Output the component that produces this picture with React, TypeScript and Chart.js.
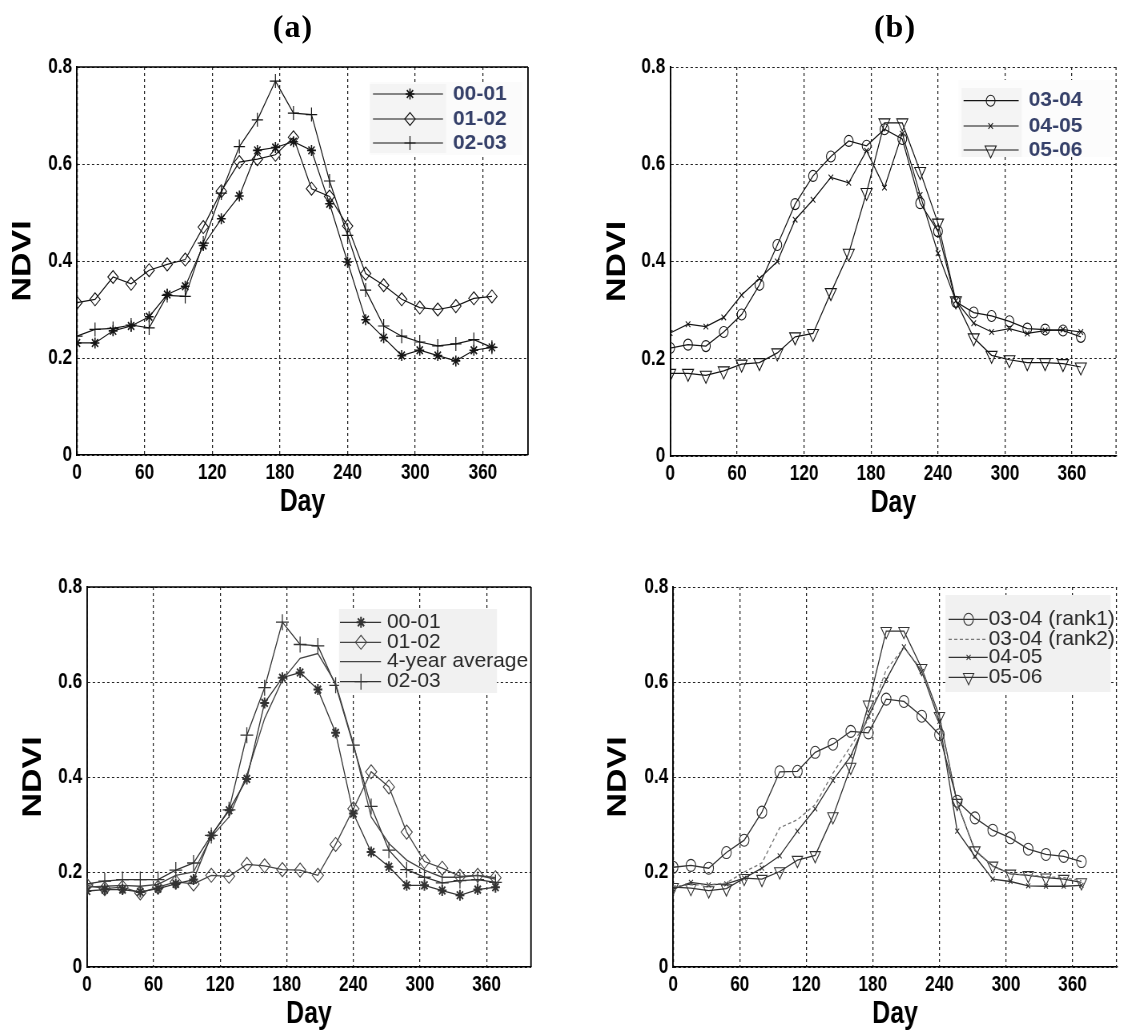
import React, { useEffect, useRef } from 'react';
import { Chart, registerables } from 'chart.js';
import { drawPoint } from 'chart.js/helpers';

Chart.register(...registerables);

// ---------- data ----------
const days = [0, 16, 32, 48, 64, 80, 96, 112, 128, 144, 160, 176, 192, 208, 224, 240, 256, 272, 288, 304, 320, 336, 352, 368];
const xTicks = [0, 60, 120, 180, 240, 300, 360];
const yTicks = [0, 0.2, 0.4, 0.6, 0.8];
const xMax = 400;
const yMax = 0.8;

// panel (a)
const a0001 = [0.231, 0.231, 0.256, 0.266, 0.285, 0.331, 0.348, 0.432, 0.487, 0.534, 0.628, 0.634, 0.646, 0.628, 0.518, 0.398, 0.279, 0.242, 0.205, 0.216, 0.205, 0.194, 0.216, 0.222];
const a0102 = [0.314, 0.321, 0.367, 0.353, 0.381, 0.393, 0.403, 0.470, 0.544, 0.604, 0.610, 0.619, 0.655, 0.549, 0.533, 0.472, 0.374, 0.350, 0.321, 0.304, 0.300, 0.307, 0.323, 0.327];
const a0203 = [0.245, 0.259, 0.261, 0.268, 0.262, 0.329, 0.327, 0.437, 0.540, 0.636, 0.691, 0.771, 0.705, 0.702, 0.565, 0.453, 0.340, 0.266, 0.245, 0.233, 0.225, 0.229, 0.238, 0.222];

// panel (b)
const b0304 = [0.222, 0.229, 0.226, 0.255, 0.291, 0.352, 0.434, 0.518, 0.576, 0.616, 0.648, 0.638, 0.672, 0.652, 0.520, 0.462, 0.317, 0.295, 0.288, 0.277, 0.262, 0.260, 0.258, 0.245];
const b0405 = [0.253, 0.271, 0.266, 0.285, 0.331, 0.365, 0.400, 0.486, 0.527, 0.573, 0.562, 0.628, 0.552, 0.663, 0.537, 0.417, 0.319, 0.273, 0.255, 0.262, 0.252, 0.258, 0.260, 0.255];
const b0506 = [0.170, 0.170, 0.166, 0.175, 0.189, 0.192, 0.212, 0.245, 0.252, 0.336, 0.417, 0.542, 0.685, 0.685, 0.585, 0.479, 0.319, 0.243, 0.207, 0.198, 0.192, 0.192, 0.190, 0.183];

// panel (c)
const c0001 = [0.160, 0.163, 0.163, 0.158, 0.165, 0.175, 0.184, 0.277, 0.330, 0.396, 0.556, 0.609, 0.620, 0.584, 0.493, 0.323, 0.242, 0.211, 0.172, 0.172, 0.161, 0.151, 0.163, 0.168];
const c0102 = [0.172, 0.165, 0.168, 0.156, 0.168, 0.179, 0.175, 0.193, 0.191, 0.216, 0.213, 0.205, 0.204, 0.193, 0.258, 0.333, 0.411, 0.379, 0.284, 0.222, 0.208, 0.191, 0.193, 0.188];
const cAvg = [0.168, 0.170, 0.172, 0.170, 0.174, 0.193, 0.200, 0.274, 0.316, 0.404, 0.523, 0.604, 0.650, 0.660, 0.597, 0.470, 0.316, 0.260, 0.225, 0.204, 0.189, 0.189, 0.193, 0.185];
const c0203 = [0.175, 0.181, 0.184, 0.184, 0.184, 0.204, 0.219, 0.277, 0.331, 0.488, 0.588, 0.726, 0.679, 0.676, 0.593, 0.467, 0.338, 0.246, 0.205, 0.189, 0.177, 0.182, 0.184, 0.178];

// panel (d)
const dRank1 = [0.210, 0.214, 0.208, 0.241, 0.267, 0.326, 0.411, 0.412, 0.452, 0.469, 0.496, 0.493, 0.564, 0.559, 0.528, 0.489, 0.349, 0.314, 0.288, 0.272, 0.248, 0.237, 0.233, 0.222];
const dRank2 = [0.170, 0.173, 0.173, 0.177, 0.200, 0.219, 0.293, 0.310, 0.342, 0.408, 0.465, 0.521, 0.626, 0.672, 0.626, 0.524, 0.345, 0.247, 0.212, 0.196, 0.194, 0.190, 0.188, 0.182];
const d0405 = [0.164, 0.178, 0.173, 0.175, 0.187, 0.208, 0.234, 0.286, 0.333, 0.393, 0.444, 0.528, 0.605, 0.674, 0.622, 0.517, 0.286, 0.233, 0.185, 0.180, 0.171, 0.170, 0.170, 0.172];
const d0506 = [0.168, 0.166, 0.161, 0.165, 0.187, 0.185, 0.201, 0.225, 0.235, 0.317, 0.421, 0.552, 0.707, 0.707, 0.629, 0.528, 0.345, 0.245, 0.213, 0.196, 0.193, 0.188, 0.185, 0.178];

// ---------- styles ----------
// the original figure is horizontally compressed; each chart canvas is drawn
// wider and squeezed back with a CSS transform so the axis text looks narrow.
const S = 0.8;
const SANS = "'Liberation Sans', Arial, sans-serif";

type Series = {
  label: string;
  data: number[];
  marker: any;
  radius: number;
  rotation?: number;
  color: string;
  width: number;
  dash?: number[];
  markerWidth?: number;
  fill?: string;
};

type Box = { x: number; y: number; w: number; h: number; color: string };

type Legend = {
  boxes: Box[];
  rows: number[];
  lineX: [number, number];
  markerX: number;
  textX: number;
  font: string;
  textColor: string;
};

type PanelDef = {
  left: number;
  top: number;
  width: number;
  height: number;
  plot: { l: number; t: number; r: number; b: number };
  ndviX: number;
  dayY: number;
  boxed: boolean;
  series: Series[];
  legend: Legend;
};

const TOP_LINE = '#151515';
const BOT_LINE = '#333333';
const HOLLOW = 'rgba(0,0,0,0)';

const topLegendFont = `bold 21px ${SANS}`;
const botLegendFont = `21px ${SANS}`;

const panels: PanelDef[] = [
  {
    left: 0, top: 0, width: 560, height: 530,
    plot: { l: 77, t: 67, r: 528, b: 455 },
    ndviX: 22.5, dayY: 502, boxed: true,
    series: [
      { label: '00-01', data: a0001, marker: 'star', radius: 5.5, color: TOP_LINE, width: 1.2, markerWidth: 1.6 },
      { label: '01-02', data: a0102, marker: 'rectRot', radius: 6.5, color: TOP_LINE, width: 1.2, markerWidth: 1.1 },
      { label: '02-03', data: a0203, marker: 'cross', radius: 7, color: TOP_LINE, width: 1.2, markerWidth: 1.2 },
    ],
    legend: {
      boxes: [
        { x: 370, y: 82, w: 152, h: 73, color: '#fbfbfb' },
        { x: 370, y: 84, w: 76, h: 69, color: '#f4f4f4' },
      ],
      rows: [94, 119, 143], lineX: [373, 443], markerX: 410, textX: 453,
      font: topLegendFont, textColor: '#36416a',
    },
  },
  {
    left: 560, top: 0, width: 563, height: 530,
    plot: { l: 670, t: 67, r: 1120, b: 456 },
    ndviX: 617, dayY: 503, boxed: false,
    series: [
      { label: '03-04', data: b0304, marker: 'circle', radius: 5.5, color: TOP_LINE, width: 1.2, markerWidth: 1.1 },
      { label: '04-05', data: b0405, marker: 'crossRot', radius: 4, color: TOP_LINE, width: 1.2, markerWidth: 1.1 },
      { label: '05-06', data: b0506, marker: 'triangle', rotation: 180, radius: 8, color: TOP_LINE, width: 1.2, markerWidth: 1.1 },
    ],
    legend: {
      boxes: [
        { x: 958, y: 80, w: 155, h: 77, color: '#fcfcfc' },
        { x: 961, y: 88, w: 60, h: 69, color: '#f4f4f4' },
      ],
      rows: [100.7, 126, 150], lineX: [963, 1018], markerX: 990, textX: 1028,
      font: topLegendFont, textColor: '#36416a',
    },
  },
  {
    left: 0, top: 530, width: 560, height: 503,
    plot: { l: 87, t: 587, r: 531, b: 967 },
    ndviX: 33, dayY: 1014, boxed: true,
    series: [
      { label: '00-01', data: c0001, marker: 'star', radius: 5.5, color: BOT_LINE, width: 1.3, markerWidth: 2 },
      { label: '01-02', data: c0102, marker: 'rectRot', radius: 7, color: '#444444', width: 1.3, markerWidth: 1.1 },
      { label: '4-year average', data: cAvg, marker: false, radius: 0, color: '#444444', width: 1.3 },
      { label: '02-03', data: c0203, marker: 'cross', radius: 8, color: BOT_LINE, width: 1.3, markerWidth: 1.3 },
    ],
    legend: {
      boxes: [{ x: 339, y: 609, w: 158, h: 84, color: '#f1f1f1' }],
      rows: [622.3, 642.3, 661.7, 681.7], lineX: [340, 381], markerX: 361, textX: 387,
      font: botLegendFont, textColor: '#2a2a2a',
    },
  },
  {
    left: 560, top: 530, width: 563, height: 503,
    plot: { l: 673, t: 587, r: 1118, b: 967 },
    ndviX: 618, dayY: 1014, boxed: false,
    series: [
      { label: '03-04 (rank1)', data: dRank1, marker: 'circle', radius: 6, color: BOT_LINE, width: 1.3, markerWidth: 1.1 },
      { label: '03-04 (rank2)', data: dRank2, marker: false, radius: 0, color: '#777777', width: 1.3, dash: [4, 3] },
      { label: '04-05', data: d0405, marker: 'crossRot', radius: 3.5, color: BOT_LINE, width: 1.3, markerWidth: 1.1 },
      { label: '05-06', data: d0506, marker: 'triangle', rotation: 180, radius: 7.5, color: BOT_LINE, width: 1.3, markerWidth: 1.1 },
    ],
    legend: {
      boxes: [{ x: 945, y: 595, w: 165, h: 97, color: '#f1f1f1' }],
      rows: [619.3, 639.3, 657.3, 677.3], lineX: [948, 987], markerX: 968, textX: 988,
      font: botLegendFont, textColor: '#2a2a2a',
    },
  },
];

// ---------- chart building ----------
function makePlugin(p: PanelDef) {
  // page x -> canvas x
  const cx = (x: number) => (x - p.left) / S;
  const cy = (y: number) => y - p.top;
  return {
    id: 'panelDecor',
    afterDatasetsDraw(chart: any) {
      const ctx = chart.ctx as CanvasRenderingContext2D;
      const a = chart.chartArea;
      ctx.save();
      // frame
      if (p.boxed) {
        ctx.strokeStyle = '#000';
        ctx.setLineDash([]);
        ctx.lineWidth = 1.5;
        ctx.beginPath();
        ctx.moveTo(a.left, a.top);
        ctx.lineTo(a.right, a.top);
        ctx.stroke();
        ctx.lineWidth = 1.8;
        ctx.beginPath();
        ctx.moveTo(a.right, a.top);
        ctx.lineTo(a.right, a.bottom);
        ctx.stroke();
      } else {
        ctx.strokeStyle = '#222';
        ctx.lineWidth = 1.25;
        ctx.setLineDash([3, 3]);
        ctx.beginPath();
        ctx.moveTo(a.right - 0.6, a.top);
        ctx.lineTo(a.right - 0.6, a.bottom);
        ctx.stroke();
      }
      // legend
      const L = p.legend;
      ctx.setLineDash([]);
      for (const b of L.boxes) {
        ctx.fillStyle = b.color;
        ctx.fillRect(cx(b.x), cy(b.y), b.w / S, b.h);
      }
      chart.data.datasets.forEach((ds: any, i: number) => {
        const y = cy(L.rows[i]);
        ctx.save();
        ctx.strokeStyle = ds.borderColor;
        ctx.lineWidth = ds.borderWidth;
        ctx.setLineDash(ds.borderDash || []);
        ctx.beginPath();
        ctx.moveTo(cx(L.lineX[0]), y);
        ctx.lineTo(cx(L.lineX[1]), y);
        ctx.stroke();
        ctx.setLineDash([]);
        if (ds.pointStyle && ds.pointRadius > 0) {
          ctx.fillStyle = ds.pointBackgroundColor;
          ctx.strokeStyle = ds.pointBorderColor;
          ctx.lineWidth = ds.pointBorderWidth;
          drawPoint(ctx, {
            pointStyle: ds.pointStyle,
            rotation: ds.pointRotation || 0,
            radius: ds.pointRadius,
            borderWidth: ds.pointBorderWidth,
          } as any, cx(L.markerX), y);
        }
        // legend text is not compressed in the original: undo the squeeze
        ctx.translate(cx(L.textX), y);
        ctx.scale(1 / S, 1);
        ctx.fillStyle = L.textColor;
        ctx.font = L.font;
        ctx.textBaseline = 'middle';
        ctx.textAlign = 'left';
        ctx.fillText(ds.label, 0, 0);
        ctx.restore();
      });
      ctx.restore();
    },
  };
}

function makeConfig(p: PanelDef): any {
  const ndviSize = 34;
  const daySize = 31;
  const W = p.width / S;
  const localL = (p.plot.l - p.left) / S;
  const localT = p.plot.t - p.top;
  const localR = (p.plot.r - p.left) / S;
  const localB = p.plot.b - p.top;
  const padLeft = (p.ndviX - p.left) / S - (ndviSize * 1.2) / 2;
  const yW = localL - padLeft;
  const scaleBottom = p.dayY - p.top + (daySize * 1.2) / 2;
  const xH = scaleBottom - localB;
  const padBottom = p.height - scaleBottom;
  const padRight = W - localR;

  const datasets = p.series.map((s) => ({
    label: s.label,
    data: days.map((d, i) => ({ x: d, y: s.data[i] })),
    borderColor: s.color,
    borderWidth: s.width,
    borderDash: s.dash || [],
    pointStyle: s.marker || 'circle',
    pointRadius: s.marker ? s.radius : 0,
    pointHoverRadius: s.marker ? s.radius : 0,
    pointRotation: s.rotation || 0,
    pointBorderColor: s.color,
    pointBackgroundColor: s.fill || HOLLOW,
    pointBorderWidth: s.markerWidth || 1,
    tension: 0,
    fill: false,
  }));

  const tickFont = { family: SANS, size: 21.5, weight: 'bold' };

  return {
    type: 'line',
    data: { datasets },
    options: {
      animation: false,
      responsive: true,
      maintainAspectRatio: false,
      devicePixelRatio: 1,
      events: [],
      layout: { padding: { left: padLeft, top: localT, right: padRight, bottom: padBottom } },
      plugins: { legend: { display: false }, tooltip: { enabled: false }, title: { display: false } },
      scales: {
        x: {
          type: 'linear',
          min: 0,
          max: xMax,
          afterBuildTicks: (sc: any) => { sc.ticks = xTicks.map((v) => ({ value: v })); },
          afterFit: (sc: any) => { sc.height = xH; },
          ticks: { font: tickFont, color: '#000', padding: 5, maxRotation: 0, autoSkip: false },
          grid: { color: '#222', lineWidth: 1.25, drawTicks: false },
          border: { display: true, color: '#000', width: 1.5, dash: [3, 3] },
          title: { display: true, text: 'Day', font: { family: SANS, size: daySize, weight: 'bold' }, color: '#000', padding: 0 },
        },
        y: {
          type: 'linear',
          min: 0,
          max: yMax,
          afterBuildTicks: (sc: any) => { sc.ticks = yTicks.map((v) => ({ value: v })); },
          afterFit: (sc: any) => { sc.width = yW; },
          ticks: {
            font: tickFont,
            color: '#000',
            padding: 6,
            callback: (v: any) => (Number(v) === 0 ? '0' : Number(v).toFixed(1)),
          },
          grid: { color: '#222', lineWidth: 1, drawTicks: false },
          border: { display: true, color: '#000', width: 1.9, dash: [3, 3] },
          title: { display: true, text: 'NDVI', font: { family: SANS, size: ndviSize, weight: 'bold' }, color: '#000', padding: 0 },
        },
      },
    },
    plugins: [makePlugin(p)],
  };
}

function Panel({ p }: { p: PanelDef }) {
  const ref = useRef<HTMLCanvasElement | null>(null);
  useEffect(() => {
    if (!ref.current) return;
    const chart = new Chart(ref.current, makeConfig(p));
    return () => chart.destroy();
  }, [p]);
  return (
    <div
      style={{
        position: 'absolute',
        left: p.left,
        top: p.top,
        width: p.width / S,
        height: p.height,
        transform: `scaleX(${S})`,
        transformOrigin: '0 0',
      }}
    >
      <canvas ref={ref} />
    </div>
  );
}

const titleStyle: React.CSSProperties = {
  position: 'absolute',
  top: 10,
  width: 120,
  height: 32,
  lineHeight: '32px',
  textAlign: 'center',
  fontFamily: "'Liberation Serif', 'Times New Roman', serif",
  fontWeight: 'bold',
  fontSize: 32,
  letterSpacing: 1,
  color: '#000',
};

export default function App() {
  return (
    <div style={{ position: 'absolute', left: 0, top: 0, width: 1123, height: 1033, background: '#fff', overflow: 'hidden' }}>
      {panels.map((p, i) => (
        <Panel key={i} p={p} />
      ))}
      <div style={{ ...titleStyle, left: 292.5 - 60 + 0.5 }}>(a)</div>
      <div style={{ ...titleStyle, left: 894.5 - 60 + 0.5 }}>(b)</div>
    </div>
  );
}
